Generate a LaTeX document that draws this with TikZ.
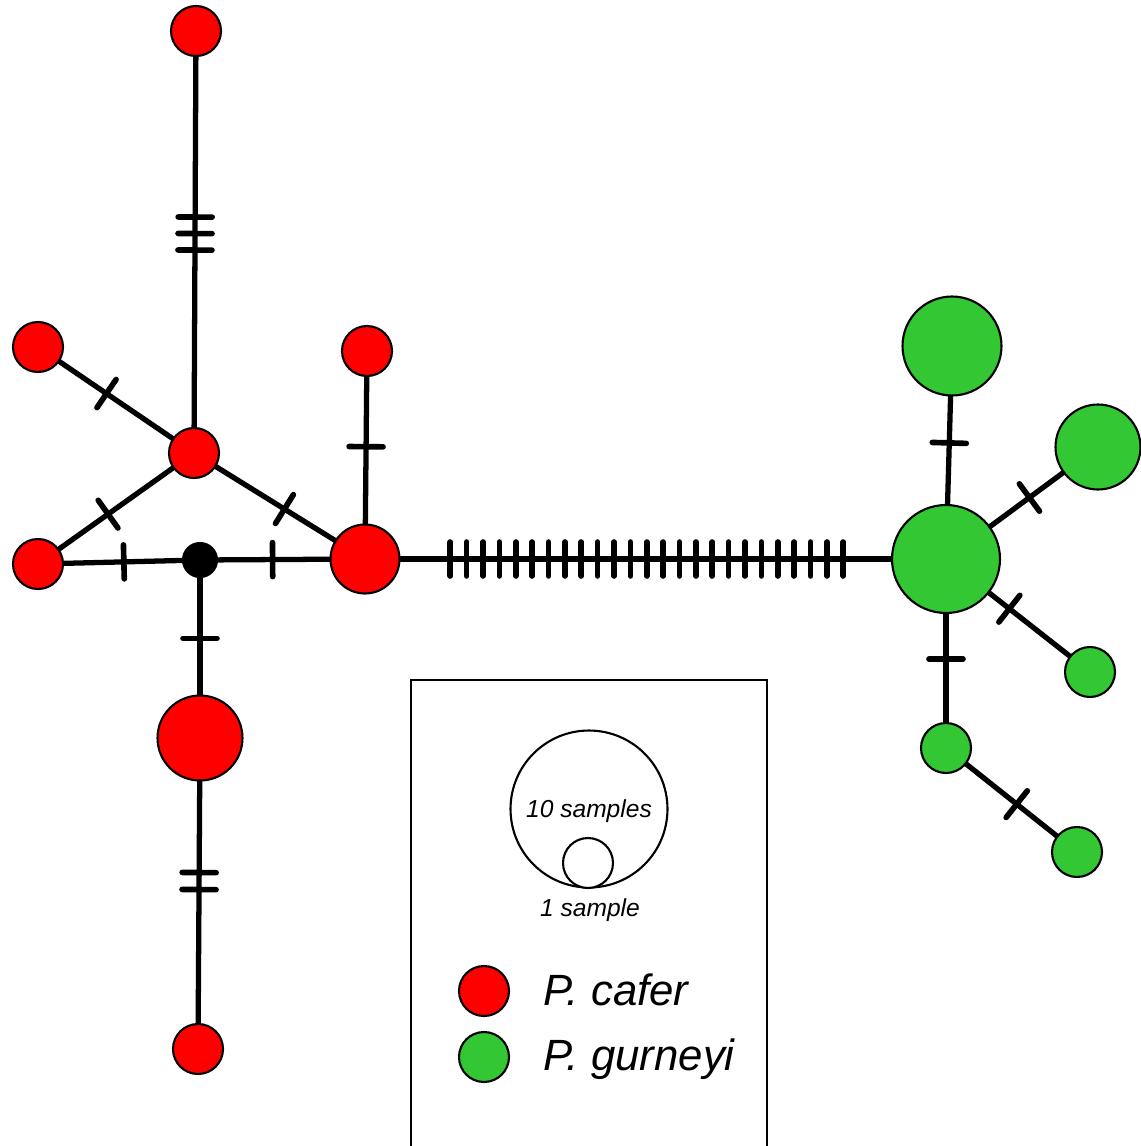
\documentclass[tikz,border=0pt]{standalone}
\usepackage{fontspec}
\setmainfont{Liberation Sans}
\usetikzlibrary{decorations.markings,backgrounds}
\definecolor{caferred}{RGB}{255,0,0}
\definecolor{gurngreen}{RGB}{51,200,51}
\begin{document}
\begin{tikzpicture}[x=0.02cm,y=-0.02cm,
  hap/.style={circle,draw=black,line width=1.2pt,inner sep=0pt,outer sep=0pt,minimum size=#1},
  cafernode/.style={hap=#1,fill=caferred},
  gurnnode/.style={hap=#1,fill=gurngreen},
  edge/.style={line width=3pt},
  ticks/.style n args={3}{postaction={decorate,decoration={markings,
     mark=at position #1 with {\foreach \k in {1,...,#2}{\draw[line width=3.2pt,line cap=round] ({(\k-(#2+1)/2)*#3},-17) -- ({(\k-(#2+1)/2)*#3},17);}}}}},
  smalltxt/.style={font=\fontsize{14}{16}\selectfont\itshape,inner sep=0pt},
  bigtxt/.style={font=\fontsize{24.9}{28}\selectfont\itshape,inner sep=0pt,anchor=base west}
]
\useasboundingbox (0,0) rectangle (1141,1146);

% P. cafer haplotypes
\node[cafernode=1cm] (rtop) at (196,31) {};
\node[cafernode=1cm] (rl1) at (38,347) {};
\node[cafernode=1cm] (rhub) at (194,453) {};
\node[cafernode=1cm] (rl2) at (38,564) {};
\node[cafernode=1.38cm] (rb1) at (365,559) {};
\node[cafernode=1cm] (rt2) at (367,351) {};
\node[hap=0.68cm,fill=black] (mv) at (200,560) {};
\node[cafernode=1.7cm] (rb2) at (200,738) {};
\node[cafernode=1cm] (rbot) at (198,1049) {};

% P. gurneyi haplotypes
\node[gurnnode=1.98cm] (gtop) at (952,346) {};
\node[gurnnode=1.7cm] (gright) at (1098,447) {};
\node[gurnnode=2.16cm] (ghub) at (946,559) {};
\node[gurnnode=1cm] (gmid) at (1090,672) {};
\node[gurnnode=1cm] (gsmall) at (946,748) {};
\node[gurnnode=1cm] (gbot) at (1077,852) {};

\begin{scope}[on background layer]
\draw[edge,ticks={0.48}{3}{16.5}] (rtop.center) -- (rhub.center);
\draw[edge,ticks={0.44}{1}{0}] (rl1.center) -- (rhub.center);
\draw[edge,ticks={0.45}{1}{0}] (rl2.center) -- (rhub.center);
\draw[edge,ticks={0.53}{1}{0}] (rhub.center) -- (rb1.center);
\draw[edge,ticks={0.53}{1}{0}] (rl2.center) -- (mv.center);
\draw[edge,ticks={0.44}{1}{0}] (mv.center) -- (rb1.center);
\draw[edge,ticks={0.46}{1}{0}] (rt2.center) -- (rb1.center);
\draw[edge,ticks={0.44}{1}{0}] (mv.center) -- (rb2.center);
\draw[edge,ticks={0.46}{2}{17}] (rb2.center) -- (rbot.center);
\draw[edge,ticks={0.485}{25}{16.375}] (rb1.center) -- (ghub.center);
\draw[edge,ticks={0.455}{1}{0}] (gtop.center) -- (ghub.center);
\draw[edge,ticks={0.55}{1}{0}] (ghub.center) -- (gright.center);
\draw[edge,ticks={0.44}{1}{0}] (ghub.center) -- (gmid.center);
\draw[edge,ticks={0.53}{1}{0}] (ghub.center) -- (gsmall.center);
\draw[edge,ticks={0.54}{1}{0}] (gsmall.center) -- (gbot.center);
\end{scope}

% legend
\draw[line width=1.5pt] (411,1160) -- (411,680) -- (767,680) -- (767,1160);
\node[hap=3.14cm,fill=white] (lbig) at (589,809) {};
\node[hap=1cm,fill=white] (lsmall) at (588,863) {};
\node[smalltxt,anchor=base] (l10) at (589,817) {10 samples};
\node[smalltxt,anchor=base] (l1) at (590,916) {1 sample};
\node[cafernode=1cm] (lred) at (484,991) {};
\node[gurnnode=1cm] (lgreen) at (484,1057) {};
\node[bigtxt] (lcafer) at (543,1005) {P. cafer};
\node[bigtxt] (lgurn) at (543,1070) {P. gurneyi};
\end{tikzpicture}
\end{document}
